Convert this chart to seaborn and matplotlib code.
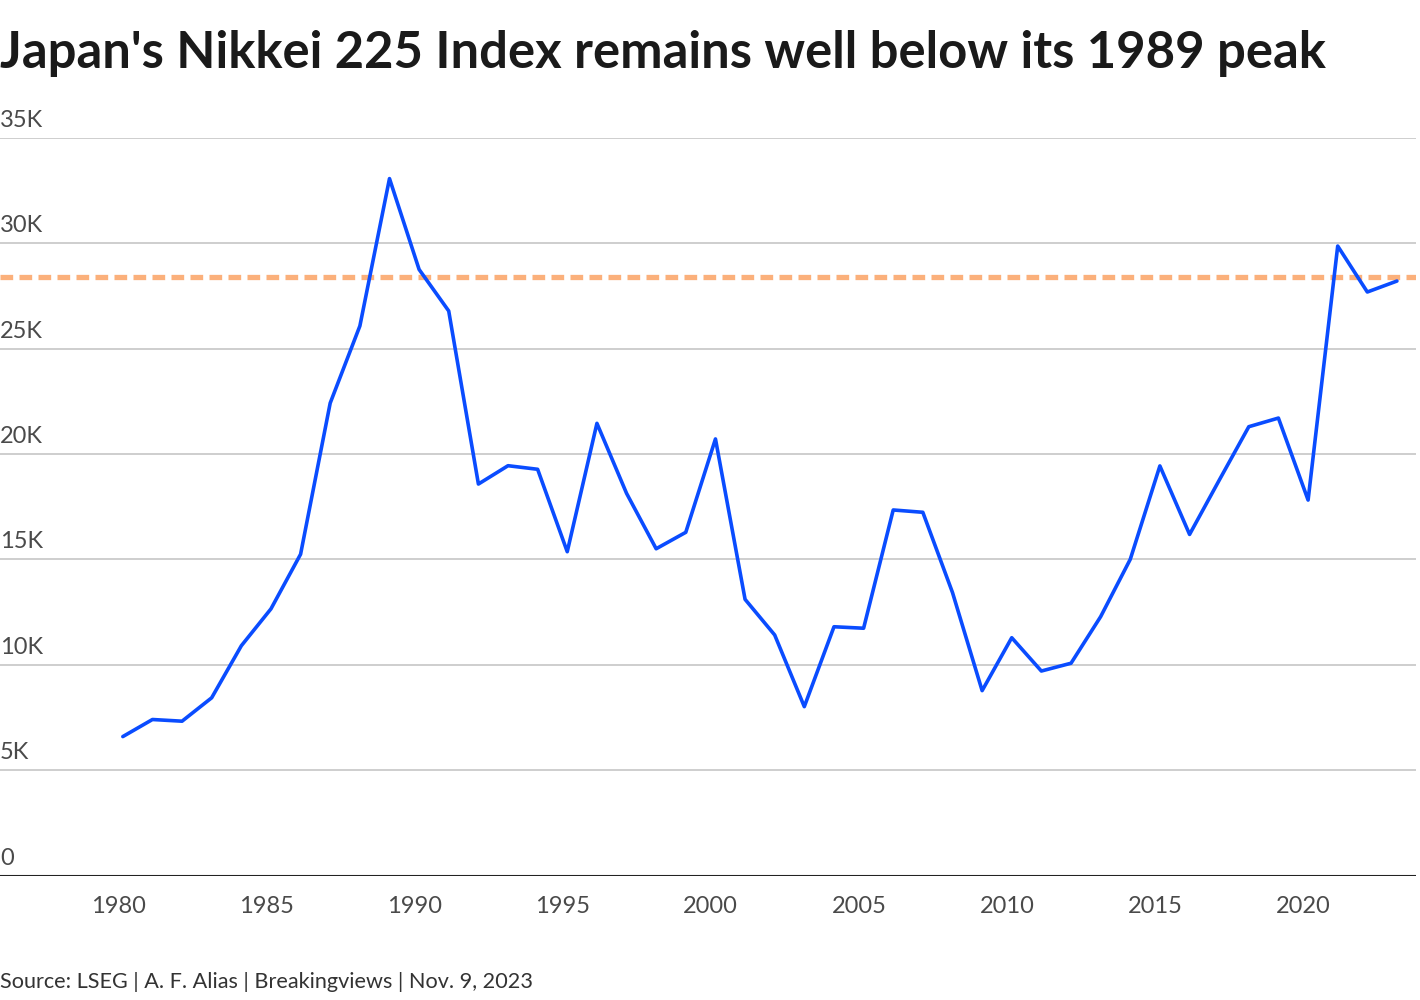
import pandas as pd
import matplotlib.pyplot as plt
import matplotlib.dates as mdates
import seaborn as sns

# --- data (yearly points, thousands of yen) ---
years = list(range(1980, 2024))
nikkei_k = [6.59, 7.40, 7.32, 8.43, 10.90, 12.65, 15.24, 22.41, 26.07, 33.06,
            28.75, 26.78, 18.57, 19.44, 19.27, 15.36, 21.45, 18.13, 15.50, 16.28,
            20.71, 13.10, 11.41, 8.01, 11.80, 11.73, 17.34, 17.23, 13.42, 8.77,
            11.28, 9.70, 10.07, 12.28, 15.00, 19.43, 16.18, 18.75, 21.29, 21.70,
            17.81, 29.86, 27.68, 28.20]
latest_level_k = 28.4
y_ticks_k = [0, 5, 10, 15, 20, 25, 30, 35]
x_tick_years = [1980, 1985, 1990, 1995, 2000, 2005, 2010, 2015, 2020]

title = "Japan's Nikkei 225 Index remains well below its 1989 peak"
source = "Source: LSEG | A. F. Alias | Breakingviews | Nov. 9, 2023"

df = pd.DataFrame({
    "date": pd.to_datetime([f"{y}-03-01" for y in years]),
    "value": [v * 1000 for v in nikkei_k],
})

# --- plot ---
sns.set_theme(style="white")
plt.rcParams["font.family"] = ["Lato", "DejaVu Sans"]

fig = plt.figure(figsize=(14.2, 10), dpi=100)
ax = fig.add_axes([0, 1 - 875.5 / 1000, 1416 / 1420, (875.5 - 137.7) / 1000])

for t in y_ticks_k[1:]:
    ax.axhline(t * 1000, color="#c6c6c6", lw=1.2, zorder=0)
ax.axhline(0, color="#222222", lw=1.5, zorder=1)

ax.axhline(latest_level_k * 1000, color="#fbb07b", lw=3.8,
           dashes=(2.4, 1.2), zorder=2)

sns.lineplot(data=df, x="date", y="value", ax=ax, color="#0a4cff",
             lw=2.6, zorder=3)

ax.set_xlim(pd.Timestamp("1976-01-08"), pd.Timestamp("2023-10-22"))
ax.set_ylim(0, 35000)
for s in ax.spines.values():
    s.set_visible(False)
ax.set_xlabel("")
ax.set_ylabel("")
ax.set_yticks([])
ax.set_xticks([pd.Timestamp(f"{y}-01-01") for y in x_tick_years])
ax.xaxis.set_major_formatter(mdates.DateFormatter("%Y"))
ax.tick_params(axis="x", length=0, pad=15, labelsize=17, labelcolor="#4a4a4a")

# y labels sit above their gridlines at the left edge
for t in y_ticks_k:
    lab = "0" if t == 0 else f"{t}K"
    ax.annotate(lab, xy=(0, t * 1000), xycoords=("axes fraction", "data"),
                xytext=(0, 5), textcoords="offset points", ha="left", va="bottom",
                fontsize=17, color="#4a4a4a")

fig.text(0.0, 1 - 68 / 1000, title, ha="left", va="baseline",
         fontsize=36.5, fontweight="bold", color="#1a1a1a")
fig.text(0.0, 1 - 988 / 1000, source, ha="left", va="baseline",
         fontsize=15.6, color="#333333")

fig.savefig("out.png", dpi=100)
